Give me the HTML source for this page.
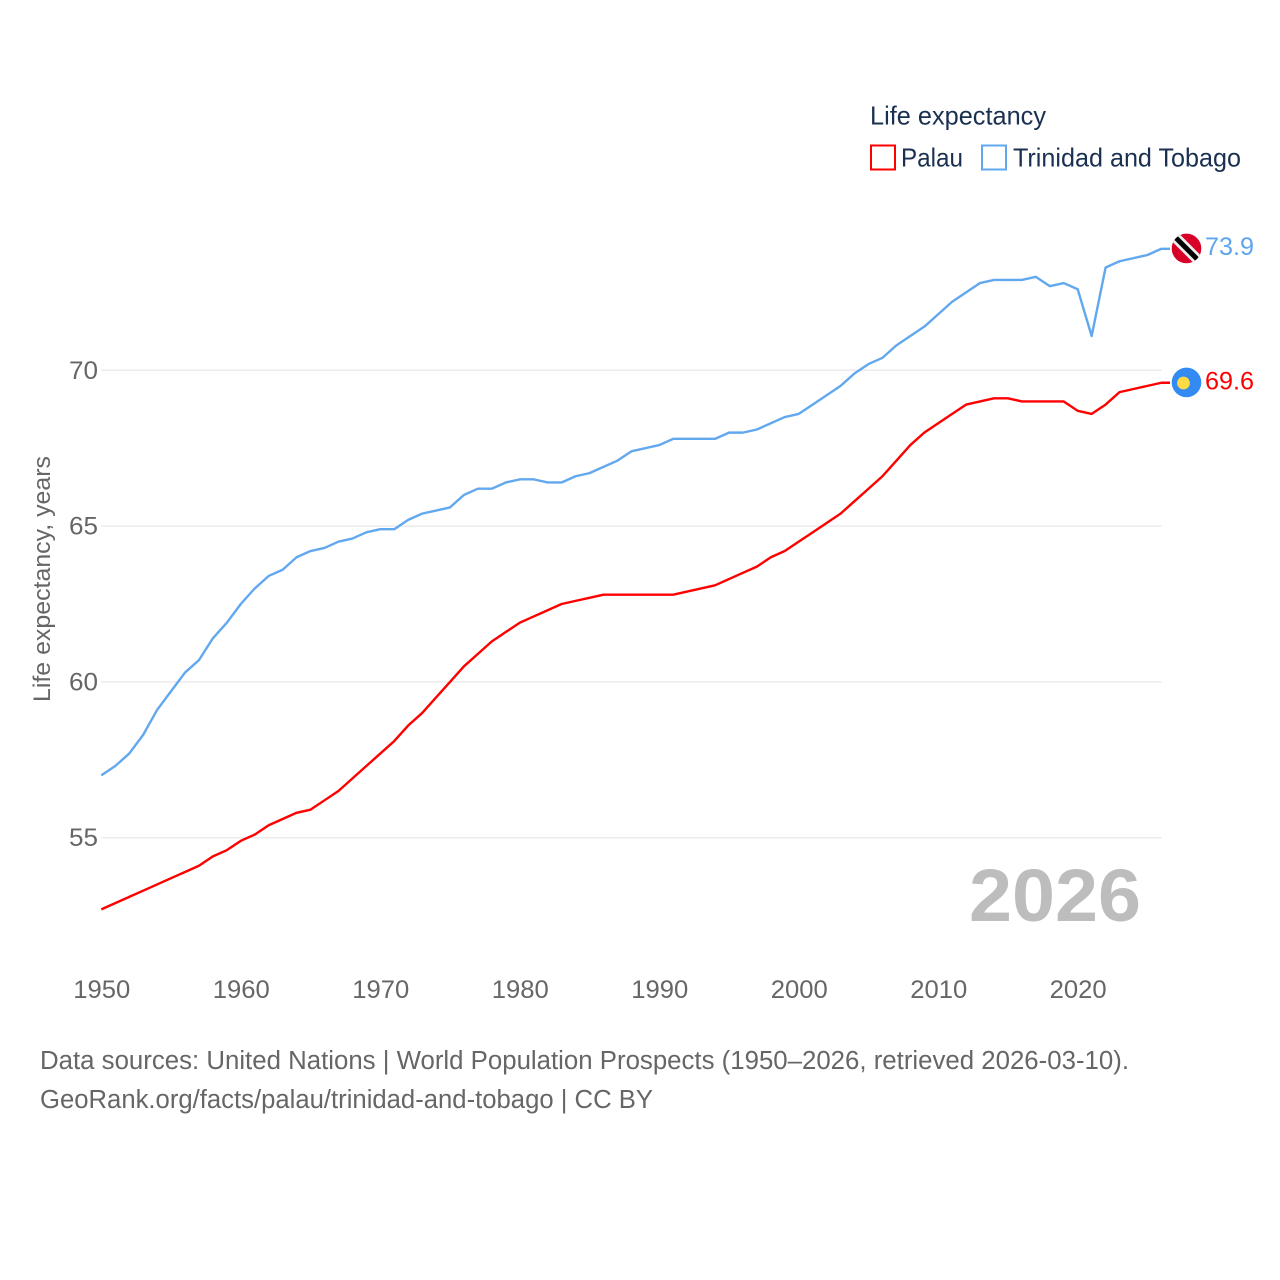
<!DOCTYPE html>
<html lang="en">
<head>
<meta charset="utf-8">
<title>Life expectancy: Palau and Trinidad and Tobago</title>
<style>
  html, body { margin: 0; padding: 0; background: #fff; }
  svg { display: block; font-family: "Liberation Sans", sans-serif; }
</style>
</head>
<body>
<svg id="chart" width="1280" height="1280" viewBox="0 0 1280 1280" xmlns="http://www.w3.org/2000/svg">
  <rect x="0" y="0" width="1280" height="1280" fill="#ffffff"/>
  <g id="grid"></g>
  <g id="y-ticks"></g>
  <g id="x-ticks"></g>
  <text transform="translate(50 579) rotate(-90)" text-anchor="middle" font-size="24" fill="#666666" textLength="246" lengthAdjust="spacingAndGlyphs">Life expectancy, years</text>
  <text x="969" y="921" font-size="74" font-weight="700" fill="#bdbdbd" textLength="172" lengthAdjust="spacingAndGlyphs">2026</text>
  <g id="series"></g>

  <g id="flag-tt">
    <clipPath id="tt-clip"><circle cx="0" cy="0" r="14.8"/></clipPath>
    <g clip-path="url(#tt-clip)">
      <rect x="-16" y="-16" width="32" height="32" fill="#d80027"/>
      <line x1="-16" y1="-16" x2="16" y2="16" stroke="#eeeeee" stroke-width="10.5"/>
      <line x1="-16" y1="-16" x2="16" y2="16" stroke="#000000" stroke-width="5"/>
    </g>
  </g>
  <g id="flag-pw">
    <circle cx="0" cy="0" r="14.8" fill="#338af3"/>
    <circle cx="-3" cy="0.5" r="6.4" fill="#ffda44"/>
  </g>
  <text id="value-tt" x="1205" font-size="25" fill="#5fa5ee" textLength="49" lengthAdjust="spacingAndGlyphs"></text>
  <text id="value-pw" x="1205" font-size="25" fill="#ff0000" textLength="49" lengthAdjust="spacingAndGlyphs"></text>

  <g>
    <text x="870" y="124.5" font-size="26" fill="#1a3050" textLength="176" lengthAdjust="spacingAndGlyphs">Life expectancy</text>
    <g>
      <rect x="871" y="145.5" width="24" height="24" fill="#ffffff" stroke="#ff0000" stroke-width="2"/>
      <text x="901" y="166.5" font-size="26" fill="#1a3050" textLength="62" lengthAdjust="spacingAndGlyphs">Palau</text>
    </g>
    <g>
      <rect x="982" y="145.5" width="24" height="24" fill="#ffffff" stroke="#62a8ef" stroke-width="2"/>
      <text x="1013" y="166.5" font-size="26" fill="#1a3050" textLength="228" lengthAdjust="spacingAndGlyphs">Trinidad and Tobago</text>
    </g>
  </g>

  <text x="40" y="1069" font-size="25.5" fill="#666666" textLength="1089" lengthAdjust="spacingAndGlyphs">Data sources: United Nations | World Population Prospects (1950–2026, retrieved 2026-03-10).</text>
  <text x="40" y="1108" font-size="25.5" fill="#666666" textLength="613" lengthAdjust="spacingAndGlyphs">GeoRank.org/facts/palau/trinidad-and-tobago | CC BY</text>
</svg>

<script>
const years = [1950,1951,1952,1953,1954,1955,1956,1957,1958,1959,
  1960,1961,1962,1963,1964,1965,1966,1967,1968,1969,
  1970,1971,1972,1973,1974,1975,1976,1977,1978,1979,
  1980,1981,1982,1983,1984,1985,1986,1987,1988,1989,
  1990,1991,1992,1993,1994,1995,1996,1997,1998,1999,
  2000,2001,2002,2003,2004,2005,2006,2007,2008,2009,
  2010,2011,2012,2013,2014,2015,2016,2017,2018,2019,
  2020,2021,2022,2023,2024,2025,2026];

const palauValues = [52.7,52.9,53.1,53.3,53.5,53.7,53.9,54.1,54.4,54.6,
  54.9,55.1,55.4,55.6,55.8,55.9,56.2,56.5,56.9,57.3,
  57.7,58.1,58.6,59.0,59.5,60.0,60.5,60.9,61.3,61.6,
  61.9,62.1,62.3,62.5,62.6,62.7,62.8,62.8,62.8,62.8,
  62.8,62.8,62.9,63.0,63.1,63.3,63.5,63.7,64.0,64.2,
  64.5,64.8,65.1,65.4,65.8,66.2,66.6,67.1,67.6,68.0,
  68.3,68.6,68.9,69.0,69.1,69.1,69.0,69.0,69.0,69.0,
  68.7,68.6,68.9,69.3,69.4,69.5,69.6];

const trinidadValues = [57.0,57.3,57.7,58.3,59.1,59.7,60.3,60.7,61.4,61.9,
  62.5,63.0,63.4,63.6,64.0,64.2,64.3,64.5,64.6,64.8,
  64.9,64.9,65.2,65.4,65.5,65.6,66.0,66.2,66.2,66.4,
  66.5,66.5,66.4,66.4,66.6,66.7,66.9,67.1,67.4,67.5,
  67.6,67.8,67.8,67.8,67.8,68.0,68.0,68.1,68.3,68.5,
  68.6,68.9,69.2,69.5,69.9,70.2,70.4,70.8,71.1,71.4,
  71.8,72.2,72.5,72.8,72.9,72.9,72.9,73.0,72.7,72.8,
  72.6,71.1,73.3,73.5,73.6,73.7,73.9];

const xTickLabels = [1950,1960,1970,1980,1990,2000,2010,2020];
const yTickLabels = [55,60,65,70];

const NS = 'http://www.w3.org/2000/svg';

function xScale(year) {
  return 101.3 + (year - 1950) * (1077.7 - 101.3) / 70;
}
function yScale(value) {
  return 837.7 + (value - 55) * (370.3 - 837.7) / 15;
}

const gridGroup = document.getElementById('grid');
const yTickGroup = document.getElementById('y-ticks');
const xTickGroup = document.getElementById('x-ticks');
const seriesGroup = document.getElementById('series');

yTickLabels.forEach(function (tick) {
  const line = document.createElementNS(NS, 'line');
  
  
  line.setAttribute('x1', xScale(1950));
  line.setAttribute('x2', xScale(2026));
  line.setAttribute('y1', yScale(tick));
  line.setAttribute('y2', yScale(tick));
  line.setAttribute('stroke', '#ebebeb');
  line.setAttribute('stroke-width', '1.5');
  gridGroup.appendChild(line);

  const label = document.createElementNS(NS, 'text');
  
  
  label.setAttribute('x', 69);
  label.setAttribute('y', yScale(tick) + 8.5);
  label.setAttribute('font-size', '25');
  label.setAttribute('fill', '#666666');
  label.setAttribute('textLength', '29');
  label.setAttribute('lengthAdjust', 'spacingAndGlyphs');
  label.textContent = tick;
  yTickGroup.appendChild(label);
});

xTickLabels.forEach(function (tick) {
  const label = document.createElementNS(NS, 'text');
  
  
  label.setAttribute('x', xScale(tick) - 28);
  label.setAttribute('y', 998);
  label.setAttribute('font-size', '25');
  label.setAttribute('fill', '#666666');
  label.setAttribute('textLength', '57');
  label.setAttribute('lengthAdjust', 'spacingAndGlyphs');
  label.textContent = tick;
  xTickGroup.appendChild(label);
});

function linePath(values) {
  const pts = values.map(function (v, i) {
    return xScale(years[i]).toFixed(2) + ',' + yScale(v).toFixed(2);
  });
  const last = values[values.length - 1];
  pts.push('1170,' + yScale(last).toFixed(2));
  return 'M' + pts.join('L');
}

const trinidadLine = document.createElementNS(NS, 'path');


trinidadLine.setAttribute('d', linePath(trinidadValues));
trinidadLine.setAttribute('fill', 'none');
trinidadLine.setAttribute('stroke', '#62a8ef');
trinidadLine.setAttribute('stroke-width', '2.4');
trinidadLine.setAttribute('stroke-linejoin', 'round');
seriesGroup.appendChild(trinidadLine);

const palauLine = document.createElementNS(NS, 'path');


palauLine.setAttribute('d', linePath(palauValues));
palauLine.setAttribute('fill', 'none');
palauLine.setAttribute('stroke', '#ff0000');
palauLine.setAttribute('stroke-width', '2.4');
palauLine.setAttribute('stroke-linejoin', 'round');
seriesGroup.appendChild(palauLine);

const lastTrinidad = trinidadValues[trinidadValues.length - 1];
const lastPalau = palauValues[palauValues.length - 1];
document.getElementById('flag-tt').setAttribute('transform', 'translate(1186.5 ' + (yScale(lastTrinidad) - 0.3) + ')');
document.getElementById('flag-pw').setAttribute('transform', 'translate(1186.5 ' + (yScale(lastPalau) - 0.3) + ')');
const valueTT = document.getElementById('value-tt');
valueTT.setAttribute('y', yScale(lastTrinidad) + 6);
valueTT.textContent = lastTrinidad.toFixed(1);
const valuePW = document.getElementById('value-pw');
valuePW.setAttribute('y', yScale(lastPalau) + 6.5);
valuePW.textContent = lastPalau.toFixed(1);
</script>
</body>
</html>
